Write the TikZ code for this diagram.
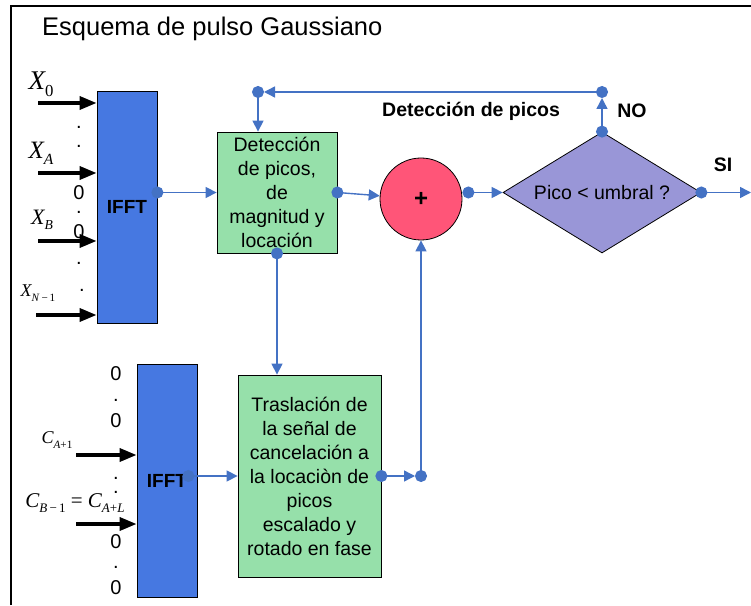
\documentclass[tikz,border=0pt]{standalone}
\usepackage{graphicx}
\usepackage{fontspec}
\setmainfont{Liberation Sans}
\newfontfamily\tms{Liberation Serif}
\usetikzlibrary{arrows.meta,shapes.geometric}
\definecolor{fftblue}{RGB}{70,120,225}
\definecolor{procgreen}{RGB}{150,224,170}
\definecolor{plusred}{RGB}{255,85,120}
\definecolor{cmpviolet}{RGB}{153,150,215}
\definecolor{linkblue}{RGB}{68,114,196}
\newcommand{\setfs}[1]{\fontsize{#1}{#1}\selectfont}
\newcommand{\sig}[2]{{\tms\itshape #1}\raisebox{-0.25em}{\scalebox{0.62}{\tms #2}}}

\tikzset{fftbox/.style={draw,line width=0.8pt,fill=fftblue,minimum width=60pt,
		inner sep=0pt,font=\bfseries\setfs{19}},
	procbox/.style={draw,line width=0.8pt,fill=procgreen,align=center,inner sep=0pt,
		font=\fontsize{19.5}{24}\selectfont},
	conn/.style={draw=linkblue,line width=1.4pt,
		{Circle[length=12pt]}-{Triangle[length=11pt,width=11pt]},shorten <=-6pt},
	tojoin/.style={conn,shorten >=6pt},
	inarr/.style={line width=3.5pt,-{Triangle[length=17pt,width=13pt]}},
	tag/.style={font=\bfseries\setfs{19.5},inner sep=0pt},
	digit/.style={font=\setfs{20},inner sep=0pt},
	sym/.style={inner sep=0pt}}

\begin{document}
\begin{tikzpicture}[x=1pt,y=1pt]
	\useasboundingbox (0,0) rectangle (751,605);
	\draw[line width=2pt] (11,0) -- (11,599) -- (751,599);
	\node[anchor=base west,inner sep=0pt,font=\setfs{25.5}] (title) at (42,569) {Esquema de pulso Gaussiano};

	% blocks
	\node[fftbox,minimum height=232pt] (ifftA) at (127,398) {IFFT};
	\node[fftbox,minimum height=233pt] (ifftB) at (167,124.5) {IFFT};
	\node[procbox,minimum width=120pt,minimum height=121pt] (det) at (277,412.5)
		{Detección\\de picos,\\de\\magnitud y\\locación};
	\node[procbox,minimum width=143pt,minimum height=202pt] (tras) at (309.5,129)
		{Traslación de\\la señal de\\cancelación a\\la locaciòn de\\picos\\escalado y\\rotado en fase};
	\node[circle,draw,line width=0.8pt,fill=plusred,minimum size=82pt,inner sep=0pt,
		font=\bfseries\setfs{24}] (plus) at (421,406) {+};
	\node[diamond,draw,line width=0.8pt,fill=cmpviolet,minimum width=198pt,minimum height=121pt,
		shape aspect=1.6,inner sep=0pt,font=\setfs{19.5}] (cmp) at (602,412.5) {Pico < umbral ?};

	\node[tag,anchor=base west] (detlbl) at (382,488) {Detección de picos};
	\node[tag,anchor=base] (nolbl) at (632,487) {NO};
	\node[tag,anchor=base] (silbl) at (723,433) {SI};

	% inputs of the first IFFT
	\coordinate (inX0) at (38,502);
	\coordinate (inXA) at (38,432);
	\coordinate (inXB) at (38,364);
	\coordinate (inXN) at (36,290);
	\foreach \c in {inX0,inXA,inXB,inXN}
		\draw[inarr] (\c) -- (\c -| ifftA.west);
	\node[sym,font=\setfs{27}] (lX0) at (41,521) {\sig{X}{0}};
	\node[sym,font=\setfs{25}] (lXA) at (41,452) {\sig{X}{\textit{A}}};
	\node[sym,font=\setfs{22}] (lXB) at (42,385) {\sig{X}{\textit{B}}};
	\node[sym,font=\setfs{18}] (lXN) at (38,312) {\sig{X}{\textit{N}\,−\,1}};
	\node[digit] (zA1) at (79,412) {0};
	\node[digit] (zA2) at (79,373) {0};
	\foreach \x/\y [count=\i] in {79/476,79/457,79/391,79/340,82/313}
		\node[digit,anchor=base] (dA\i) at (\x,\y) {.};

	% inputs of the second IFFT
	\coordinate (inC1) at (76,150);
	\coordinate (inC2) at (76,81);
	\foreach \c in {inC1,inC2}
		\draw[inarr] (\c) -- (\c -| ifftB.west);
	\node[sym,font=\setfs{18}] (lC1) at (57,165) {\sig{C}{\textit{A}+1}};
	\node[sym,font=\setfs{21}] (lC2) at (75,102) {\sig{C}{\textit{B}\,−\,1}{\tms\ =\ }\sig{C}{\textit{A}+\textit{L}}};
	\foreach \y [count=\i] in {231,184,63,17}
		\node[digit] (zB\i) at (116,\y) {0};
	\foreach \y [count=\i] in {203.5,125.5,111.5,36.5}
		\node[digit,anchor=base] (dB\i) at (116,\y) {.};

	% joints
	\coordinate (upR) at (cmp.north |- 0,513);
	\coordinate (upL) at (258,513);
	\coordinate (sumin) at (plus.south |- tras.east);
	\coordinate (out) at (751,412.5);

	% links
	\draw[conn] (ifftA.east |- det.west) -- (det.west);
	\draw[conn] (det.east) -- (plus);
	\draw[conn] ([xshift=6pt]plus.east |- cmp.west) -- (cmp.west);
	\draw[conn] (cmp.east) -- (out);
	\draw[tojoin] (cmp.north) -- (upR);
	\draw[tojoin] (upR) -- (upL);
	\draw[conn] (upL) -- (upL |- det.north);
	\draw[conn] (det.south) -- (det.south |- tras.north);
	\draw[conn] ([xshift=-9pt]ifftB.east |- tras.west) -- (tras.west);
	\draw[tojoin] (tras.east) -- (sumin);
	\draw[conn] (sumin) -- (plus.south);
\end{tikzpicture}
\end{document}
